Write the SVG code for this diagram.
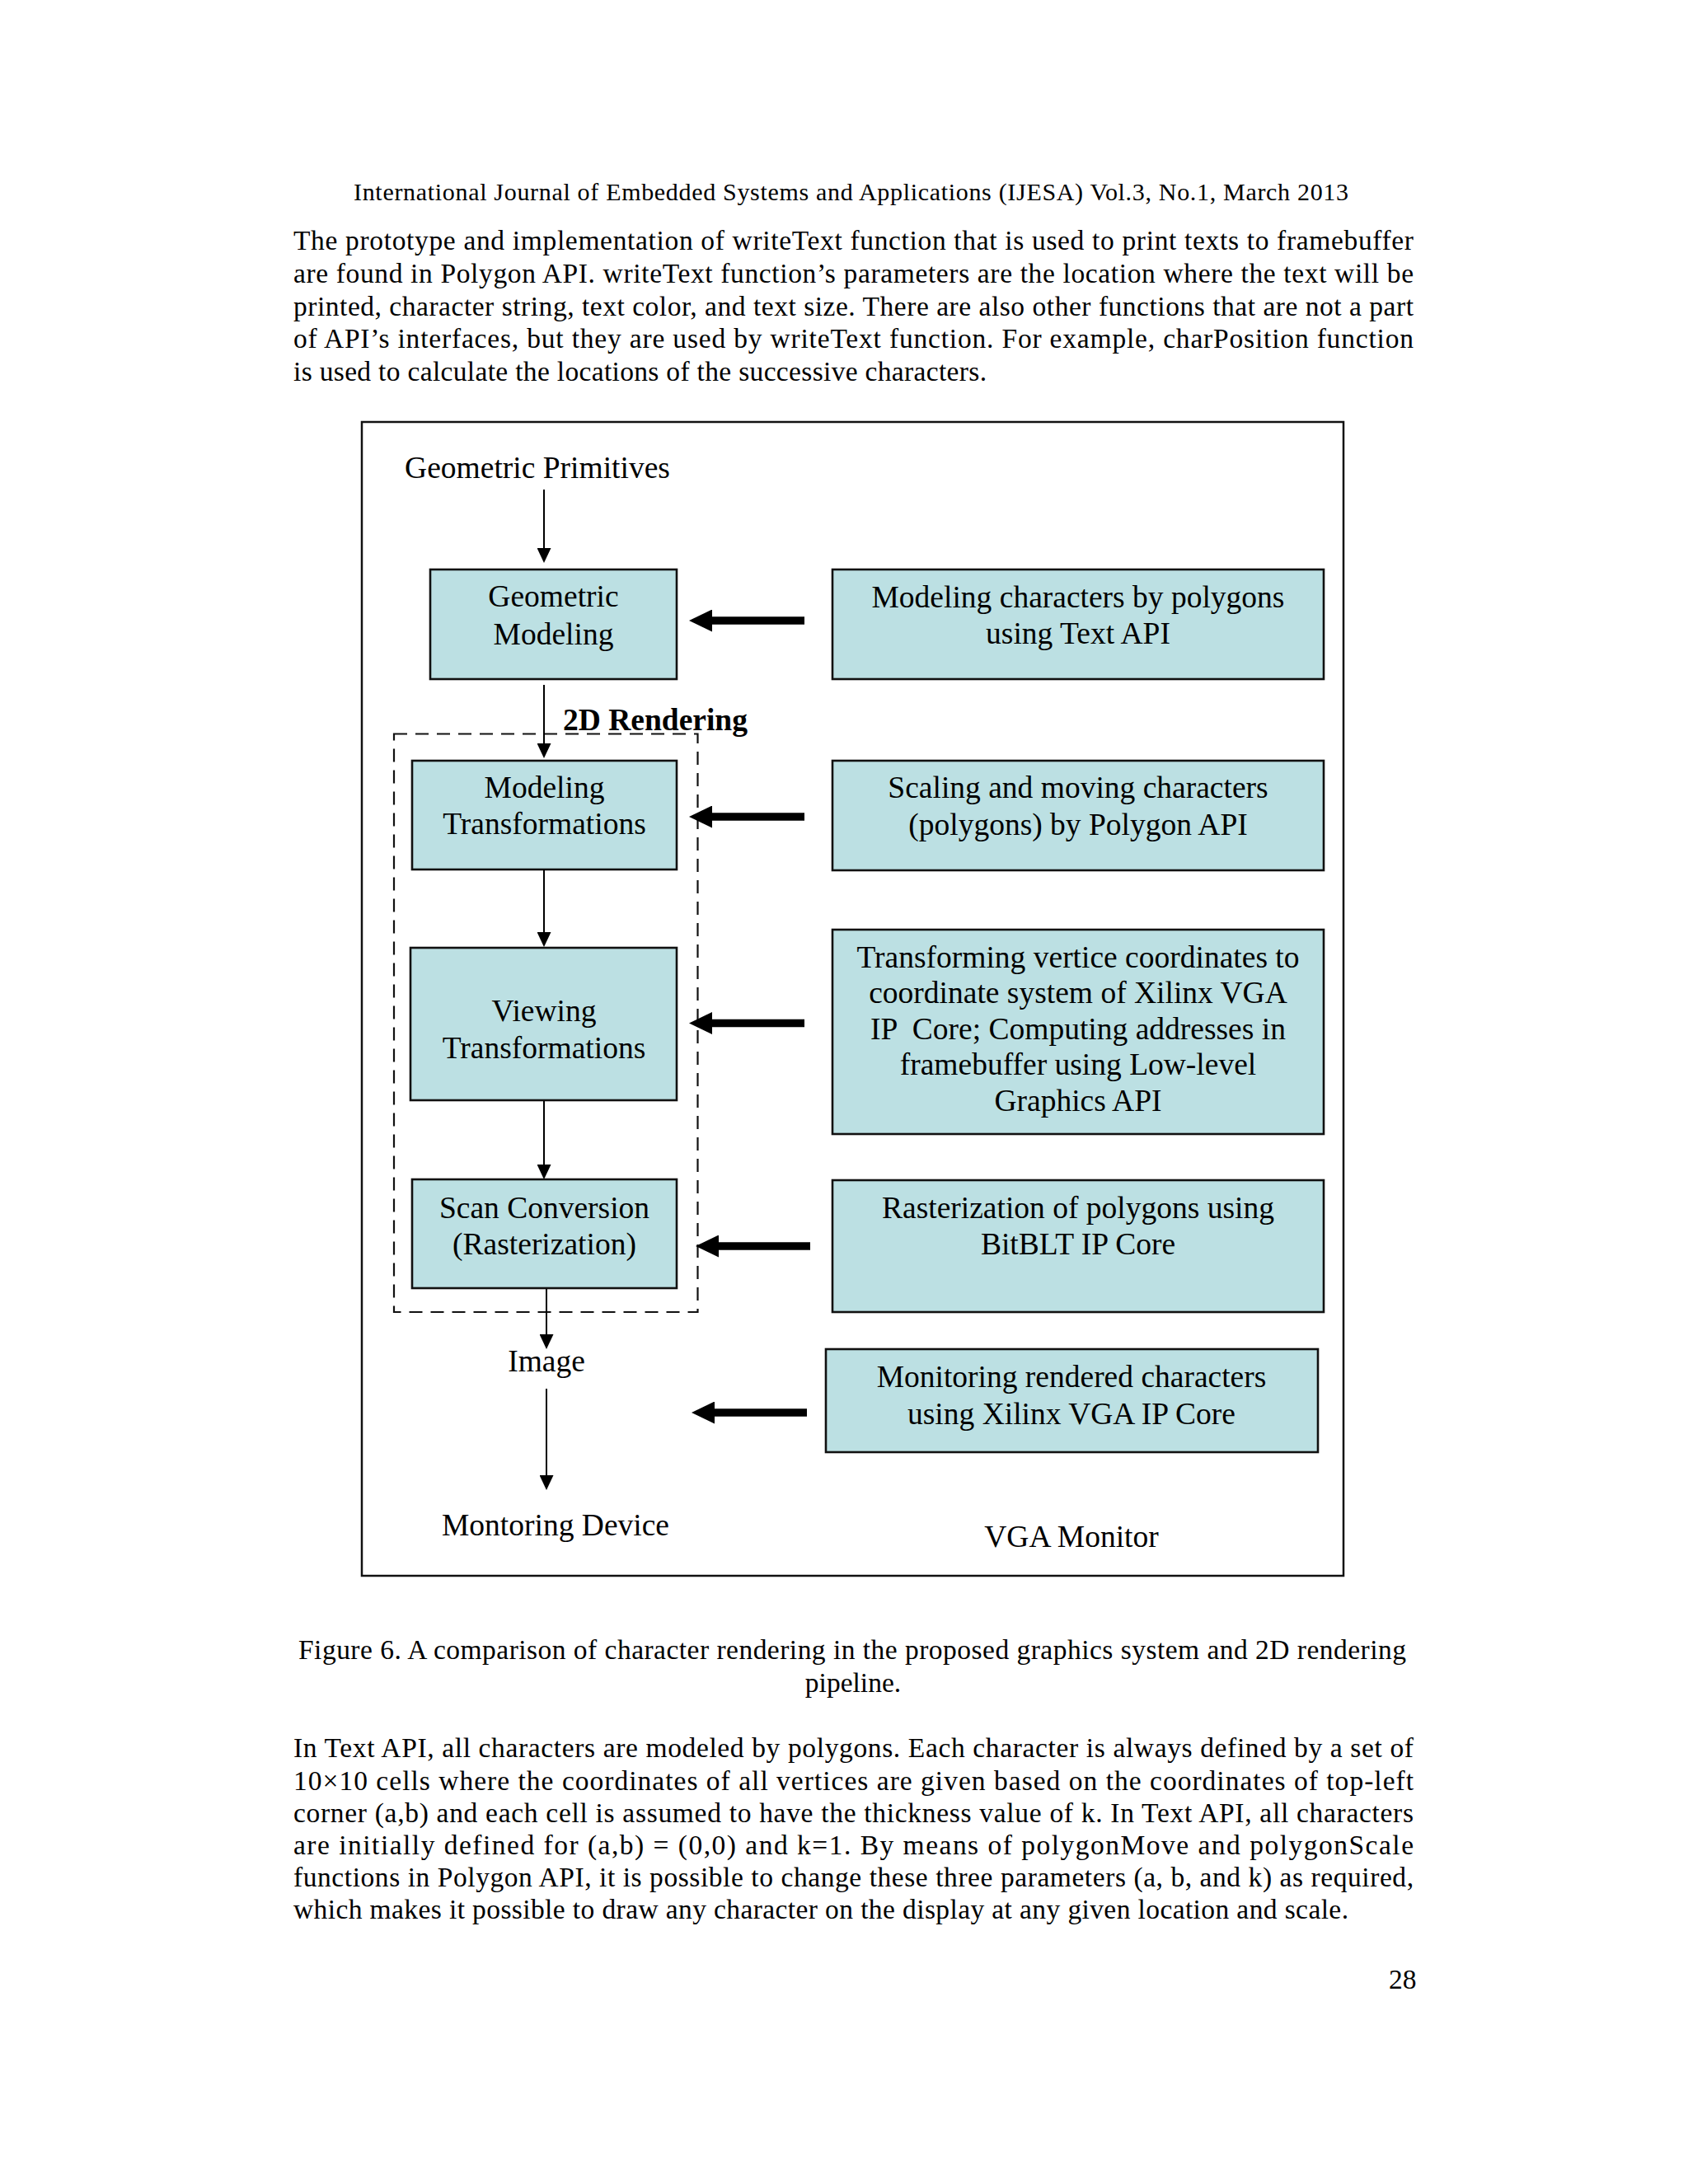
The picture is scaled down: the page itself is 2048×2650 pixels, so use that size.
<svg xmlns="http://www.w3.org/2000/svg" width="2048" height="2650" viewBox="0 0 2048 2650">
<style>
text{font-family:"Liberation Serif","Times New Roman",serif;fill:#000}
.pg{font-size:33.5px}
.hd{font-size:30px}
.d{font-size:37.5px}
.c{text-anchor:middle}
.b{font-weight:bold}
.box{fill:#BCE0E3;stroke:#111;stroke-width:2.6}
.thin{stroke:#000;stroke-width:2;fill:none;marker-end:url(#ah)}
.thick{stroke:#000;stroke-width:9.4;fill:none;marker-end:url(#bh)}
</style>
<defs>
<marker id="ah" markerUnits="userSpaceOnUse" viewBox="0 0 18 17" markerWidth="18" markerHeight="17" refX="8" refY="8.5" orient="auto">
<path d="M0,0 L18,8.5 L0,17 Z" fill="#000"/>
</marker>
<marker id="bh" markerUnits="userSpaceOnUse" viewBox="0 0 28 27" markerWidth="28" markerHeight="27" refX="8" refY="13.5" orient="auto">
<path d="M0,0 L28,13.5 L0,27 Z" fill="#000"/>
</marker>
</defs>
<rect width="2048" height="2650" fill="#fff"/>

<g id="page-text">
<text class="hd" x="429" y="243" textLength="1207" lengthAdjust="spacing">International Journal of Embedded Systems and Applications (IJESA) Vol.3, No.1, March 2013</text>
<text class="pg" x="356" y="303" textLength="1359" lengthAdjust="spacing">The prototype and implementation of writeText function that is used to print texts to framebuffer</text>
<text class="pg" x="356" y="343" textLength="1359" lengthAdjust="spacing">are found in Polygon API. writeText function’s parameters are the location where the text will be</text>
<text class="pg" x="356" y="383" textLength="1359" lengthAdjust="spacing">printed, character string, text color, and text size. There are also other functions that are not a part</text>
<text class="pg" x="356" y="422" textLength="1359" lengthAdjust="spacing">of API’s interfaces, but they are used by writeText function. For example, charPosition function</text>
<text class="pg" x="356" y="462" textLength="841" lengthAdjust="spacing">is used to calculate the locations of the successive characters.</text>
<text class="pg" x="362" y="2013" textLength="1344" lengthAdjust="spacing">Figure 6. A comparison of character rendering in the proposed graphics system and 2D rendering</text>
<text class="pg c" x="1035" y="2053">pipeline.</text>
<text class="pg" x="356" y="2132" textLength="1359" lengthAdjust="spacing">In Text API, all characters are modeled by polygons. Each character is always defined by a set of</text>
<text class="pg" x="356" y="2172" textLength="1359" lengthAdjust="spacing">10×10 cells where the coordinates of all vertices are given based on the coordinates of top-left</text>
<text class="pg" x="356" y="2211" textLength="1359" lengthAdjust="spacing">corner (a,b) and each cell is assumed to have the thickness value of k. In Text API, all characters</text>
<text class="pg" x="356" y="2250" textLength="1359" lengthAdjust="spacing">are initially defined for (a,b) = (0,0) and k=1. By means of polygonMove and polygonScale</text>
<text class="pg" x="356" y="2289" textLength="1359" lengthAdjust="spacing">functions in Polygon API, it is possible to change these three parameters (a, b, and k) as required,</text>
<text class="pg" x="356" y="2328" textLength="1280" lengthAdjust="spacing">which makes it possible to draw any character on the display at any given location and scale.</text>
<text class="pg" x="1685" y="2413">28</text>
</g>

<g id="frame">
<rect x="439" y="512" width="1191" height="1400" fill="none" stroke="#111" stroke-width="2.5"/>
<rect x="478" y="890.5" width="368.5" height="701.5" fill="none" stroke="#111" stroke-width="2.2" stroke-dasharray="16 10"/>
<text class="d b" x="683" y="886">2D Rendering</text>
</g>

<g id="labels">
<text class="d c" x="652" y="580">Geometric Primitives</text>
<text class="d c" x="663" y="1664">Image</text>
<text class="d c" x="674" y="1863">Montoring Device</text>
<text class="d c" x="1300" y="1877">VGA Monitor</text>
</g>

<g id="geometric-modeling">
<rect class="box" x="522" y="691" width="299" height="133"/>
<text class="d c" x="671.5" y="736">Geometric</text>
<text class="d c" x="671.5" y="781.5">Modeling</text>
</g>
<g id="modeling-transformations">
<rect class="box" x="500" y="923" width="321" height="132"/>
<text class="d c" x="660.5" y="968">Modeling</text>
<text class="d c" x="660.5" y="1012">Transformations</text>
</g>
<g id="viewing-transformations">
<rect class="box" x="498" y="1150" width="323" height="185"/>
<text class="d c" x="660" y="1239">Viewing</text>
<text class="d c" x="660" y="1284">Transformations</text>
</g>
<g id="scan-conversion">
<rect class="box" x="500" y="1431" width="321" height="132"/>
<text class="d c" x="660.5" y="1478">Scan Conversion</text>
<text class="d c" x="660.5" y="1522">(Rasterization)</text>
</g>

<g id="text-api">
<rect class="box" x="1010" y="691" width="596" height="133"/>
<text class="d c" x="1308" y="737">Modeling characters by polygons</text>
<text class="d c" x="1308" y="781">using Text API</text>
</g>
<g id="polygon-api">
<rect class="box" x="1010" y="923" width="596" height="133"/>
<text class="d c" x="1308" y="968">Scaling and moving characters</text>
<text class="d c" x="1308" y="1013">(polygons) by Polygon API</text>
</g>
<g id="low-level-api">
<rect class="box" x="1010" y="1128" width="596" height="248"/>
<text class="d c" x="1308" y="1174">Transforming vertice coordinates to</text>
<text class="d c" x="1308" y="1217">coordinate system of Xilinx VGA</text>
<text class="d c" x="1308" y="1261" style="white-space:pre">IP  Core; Computing addresses in</text>
<text class="d c" x="1308" y="1304">framebuffer using Low-level</text>
<text class="d c" x="1308" y="1348">Graphics API</text>
</g>
<g id="bitblt">
<rect class="box" x="1010" y="1432" width="596" height="160"/>
<text class="d c" x="1308" y="1478">Rasterization of polygons using</text>
<text class="d c" x="1308" y="1522">BitBLT IP Core</text>
</g>
<g id="vga-core">
<rect class="box" x="1002" y="1637" width="597" height="125"/>
<text class="d c" x="1300" y="1683">Monitoring rendered characters</text>
<text class="d c" x="1300" y="1728">using Xilinx VGA IP Core</text>
</g>

<g id="connectors">
<line class="thin" x1="660" y1="594" x2="660" y2="673"/>
<line class="thin" x1="660" y1="831" x2="660" y2="910"/>
<line class="thin" x1="660" y1="1055" x2="660" y2="1139"/>
<line class="thin" x1="660" y1="1336" x2="660" y2="1421"/>
<line class="thin" x1="663" y1="1564" x2="663" y2="1627"/>
<line class="thin" x1="663" y1="1685" x2="663" y2="1798"/>
<line class="thick" x1="976" y1="753" x2="856" y2="753"/>
<line class="thick" x1="976" y1="991" x2="856" y2="991"/>
<line class="thick" x1="976" y1="1241.5" x2="856" y2="1241.5"/>
<line class="thick" x1="983" y1="1512" x2="864" y2="1512"/>
<line class="thick" x1="979" y1="1714" x2="859" y2="1714"/>
</g>
</svg>
